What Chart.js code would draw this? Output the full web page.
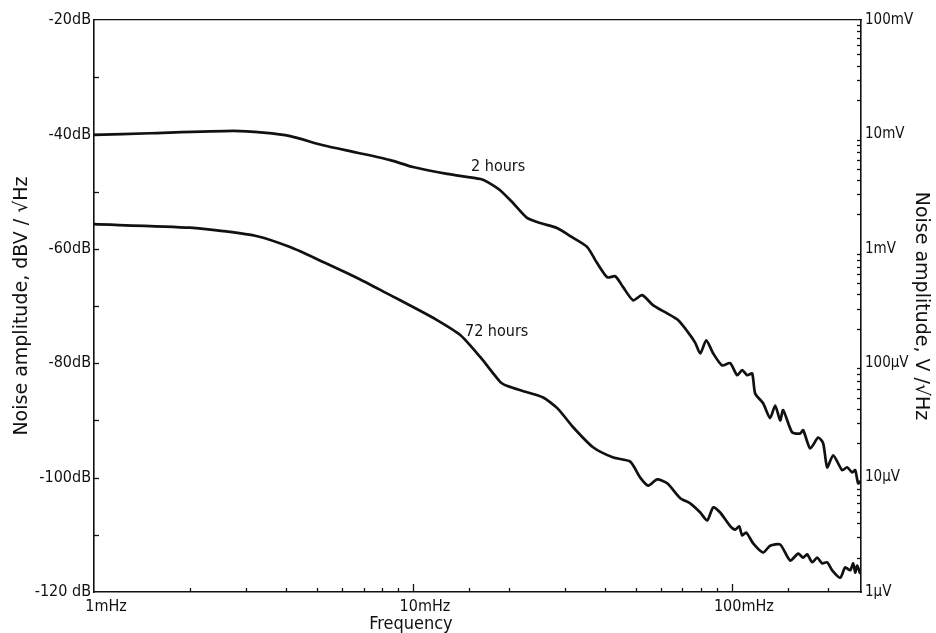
<!DOCTYPE html>
<html><head><meta charset="utf-8">
<script src="https://cdn.jsdelivr.net/npm/chart.js@4/dist/chart.umd.min.js"></script>
<style>html,body{margin:0;padding:0;background:#fff;}canvas{display:block;}</style>
</head><body>
<canvas id="c" width="936" height="633"></canvas>
<script>
// Frequency in mHz, amplitude in dBV/√Hz
const freq2h = [1.0,1.5,2.73,3.40,4.12,5.23,6.69,8.49,10.0,12.8,16.3,17.1,18.8,20.6,22.8,25.1,28.4,31.8,35.2,37.8,40.7,43.1,45.6,49.0,52.3,56.7,62.7,67.9,72.9,76.7,79.6,83.1,87.4,93.2,98.8,103.9,107.7,111.7,115.8,118.3,125.3,131.8,136.7,141.7,144.8,154.5,163.7,167.3,176.0,186.5,193.3,199.0,207.8,221.7,229.8,238.4,243.6,248.9,254.3];
const db2h = [-40.1,-39.8,-39.4,-39.7,-40.3,-41.9,-43.2,-44.5,-45.7,-46.9,-47.8,-48.3,-49.8,-52.0,-54.6,-55.5,-56.4,-58.1,-59.7,-62.5,-65.0,-64.8,-66.7,-69.0,-68.1,-69.9,-71.3,-72.5,-74.6,-76.4,-78.3,-76.0,-78.3,-80.4,-80.0,-82.1,-81.2,-82.1,-81.8,-85.3,-87.0,-89.6,-87.4,-90.0,-88.2,-92.1,-92.3,-91.7,-94.9,-93.0,-94.0,-98.2,-96.1,-98.7,-98.2,-99.1,-98.7,-101.0,-100.5];
const freq72h = [1.0,2.0,2.54,3.25,4.12,5.23,6.69,8.49,9.8,11.6,14.1,16.3,18.8,19.8,22.2,25.6,28.4,31.8,36.7,42.5,48.0,51.6,54.7,58.3,62.7,68.9,74.0,79.6,83.7,87.4,91.9,98.8,102.4,105.4,107.7,110.9,116.6,125.3,131.8,141.7,152.3,161.4,167.3,172.2,178.5,185.1,191.9,199.0,206.3,218.6,226.6,234.9,240.1,243.6,247.1,252.5];
const db72h = [-55.7,-56.3,-56.9,-57.8,-59.7,-62.3,-65.1,-68.1,-69.9,-72.1,-75.1,-79.0,-83.3,-84.0,-84.9,-86.0,-87.9,-91.2,-94.7,-96.5,-97.2,-100.0,-101.4,-100.3,-101.0,-103.6,-104.5,-106.1,-107.5,-105.2,-106.1,-108.5,-109.1,-108.5,-110.1,-109.6,-111.5,-113.1,-111.9,-111.7,-114.5,-113.3,-114.0,-113.4,-114.8,-114.0,-115.0,-114.8,-116.2,-117.5,-115.7,-116.2,-115.0,-116.6,-115.4,-116.8];
const dbTicks = [-120,-100,-80,-60,-40,-20];
const dbLabels = ['-120 dB','-100dB','-80dB','-60dB','-40dB','-20dB'];
const voltLabels = ['1µV','10µV','100µV','1mV','10mV','100mV'];
const freqTicks = [1,10,100];
const freqLabels = ['1mHz','10mHz','100mHz'];
const curveNames = ['2 hours','72 hours'];
const curveLabelFreq = [18.5,18.3];
const curveLabelDb = [-45.6,-74.6];

const FONT = "'DejaVu Sans Condensed','DejaVu Sans',sans-serif";
const TFONT = "'DejaVu Sans',sans-serif";
const INK = '#111';
Chart.defaults.font.family = FONT;
Chart.defaults.color = INK;

function pts(fs, ds){ return fs.map((f,i)=>({x:f,y:ds[i]})); }

const deco = {
  id:'deco',
  afterDraw(chart){
    const {ctx, chartArea:a, scales:{x,y,y2}} = chart;
    const seg=(x1,y1,x2,y2_)=>{ctx.beginPath();ctx.moveTo(x1,y1);ctx.lineTo(x2,y2_);ctx.stroke();};
    ctx.save();
    ctx.strokeStyle=INK; ctx.lineWidth=1.3;
    for(let v=-110; v<=-30; v+=10){ const py=Math.round(y.getPixelForValue(v))+0.5; seg(a.left,py,a.left+5,py); }
    for(let d=-120; d<-20; d+=20){
      for(let k=2;k<=9;k++){ const py=Math.round(y2.getPixelForValue(d+20*Math.log10(k)))+0.5; seg(a.right-4,py,a.right,py); }
    }
    x.ticks.forEach(t=>{
      const v=t.value; if(v<=1.0001 || v>=x.max) return;
      const lg=Math.log10(v); const major=Math.abs(lg-Math.round(lg))<1e-6;
      const px=Math.round(x.getPixelForValue(v))+0.5;
      seg(px,a.bottom,px,a.bottom-(major?8:4));
    });
    ctx.fillStyle=INK; ctx.textBaseline='middle'; ctx.textAlign='center';
    ctx.font='16px '+FONT;
    curveNames.forEach((n,i)=>{ ctx.fillText(n, x.getPixelForValue(curveLabelFreq[i]), y.getPixelForValue(curveLabelDb[i])); });
    ctx.font='18px '+FONT;
    ctx.fillText('Frequency', x.getPixelForValue(10)-2, 624);
    ctx.restore();
  }
};

new Chart(document.getElementById('c'), {
  type:'line',
  data:{datasets:[
    {label:curveNames[0], data:pts(freq2h,db2h), borderColor:INK, borderWidth:2.7, pointRadius:0, tension:0.22, fill:false, yAxisID:'y', xAxisID:'x'},
    {label:curveNames[1], data:pts(freq72h,db72h), borderColor:INK, borderWidth:2.7, pointRadius:0, tension:0.22, fill:false, yAxisID:'y', xAxisID:'x'}
  ]},
  options:{
    responsive:false, animation:false, devicePixelRatio:1,
    layout:{padding:0},
    plugins:{legend:{display:false}, tooltip:{enabled:false}},
    scales:{
      x:{type:'logarithmic', position:'bottom', min:1, max:254,
        afterFit(s){ s.height=41; },
        ticks:{autoSkip:false, maxRotation:0, minRotation:0, padding:5, labelOffset:12, font:{size:16},
          callback(v){ const i=freqTicks.findIndex(t=>Math.abs(t-v)<1e-6*t); return i>=0?freqLabels[i]:''; }},
        grid:{display:false, drawTicks:false},
        border:{display:true, color:INK, width:1.6}},
      x2:{type:'logarithmic', position:'top', min:1, max:254,
        afterFit(s){ s.height=20; },
        ticks:{display:false}, grid:{display:false, drawTicks:false},
        border:{display:true, color:INK, width:1.2, dash:[14,4,3,4]}},
      y:{type:'linear', position:'left', min:-120, max:-20,
        afterFit(s){ s.width=94; },
        afterBuildTicks(s){ s.ticks = dbTicks.map(v=>({value:v})); },
        ticks:{padding:3, font:{size:16}, callback(v){ const i=dbTicks.indexOf(v); return i>=0?dbLabels[i]:''; }},
        grid:{display:false, drawTicks:false},
        border:{display:true, color:INK, width:1.6},
        title:{display:true, text:'Noise amplitude, dBV / √Hz', font:{size:19, family:TFONT}, padding:{top:11,bottom:0}}},
      y2:{type:'linear', position:'right', min:-120, max:-20,
        afterFit(s){ s.width=75; },
        afterBuildTicks(s){ s.ticks = dbTicks.map(v=>({value:v})); },
        ticks:{padding:4, font:{size:15}, callback(v){ const i=dbTicks.indexOf(v); return i>=0?voltLabels[i]:''; }},
        grid:{display:false, drawTicks:false},
        border:{display:true, color:INK, width:1.6},
        title:{display:true, text:'Noise amplitude, V /√Hz', font:{size:19, family:TFONT}, padding:{top:4,bottom:0}}}
    }
  },
  plugins:[deco]
});
</script>
</body></html>
